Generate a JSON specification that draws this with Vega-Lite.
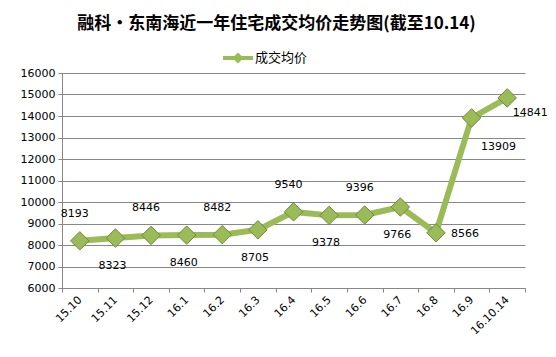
{
  "$schema": "https://vega.github.io/schema/vega-lite/v6.json",
  "autosize": "none",
  "width": 463,
  "height": 215,
  "padding": {"left": 62, "top": 73, "right": 31, "bottom": 69},
  "background": "white",
  "title": {
    "text": "融科·东南海近一年住宅成交均价走势图(截至10.14)",
    "anchor": "middle",
    "font": "Noto Sans CJK SC",
    "fontSize": 17,
    "fontWeight": "bold",
    "color": "#000000",
    "offset": 10,
    "dx": -17
  },
  "data": {
    "values": [
      {"month": "15.10", "price": 8193},
      {"month": "15.11", "price": 8323},
      {"month": "15.12", "price": 8446},
      {"month": "16.1", "price": 8460},
      {"month": "16.2", "price": 8482},
      {"month": "16.3", "price": 8705},
      {"month": "16.4", "price": 9540},
      {"month": "16.5", "price": 9378},
      {"month": "16.6", "price": 9396},
      {"month": "16.7", "price": 9766},
      {"month": "16.8", "price": 8566},
      {"month": "16.9", "price": 13909},
      {"month": "16.10.14", "price": 14841}
    ]
  },
  "encoding": {
    "x": {
      "field": "month",
      "type": "nominal",
      "sort": null,
      "bandPosition": 0.5,
      "scale": {"type": "band", "paddingInner": 0, "paddingOuter": 0},
      "axis": {
        "title": null,
        "tickBand": "extent",
        "labelAngle": -45,
        "labelAlign": "right",
        "labelBaseline": "middle",
        "labelFont": "DejaVu Sans",
        "labelFontSize": 11,
        "labelColor": "#000000",
        "labelPadding": 6,
        "domainColor": "#878787",
        "tickColor": "#878787",
        "tickSize": 4,
        "grid": false
      }
    },
    "y": {
      "field": "price",
      "type": "quantitative",
      "scale": {"domain": [6000, 16000], "nice": false, "zero": false},
      "axis": {
        "title": null,
        "format": "d",
        "values": [6000, 7000, 8000, 9000, 10000, 11000, 12000, 13000, 14000, 15000, 16000],
        "labelFont": "DejaVu Sans",
        "labelFontSize": 11,
        "labelColor": "#000000",
        "labelPadding": 3,
        "domainColor": "#878787",
        "tickColor": "#878787",
        "tickSize": 4,
        "gridColor": "#878787",
        "gridWidth": 1
      }
    }
  },
  "layer": [
    {
      "mark": {"type": "line", "strokeWidth": 6},
      "encoding": {
        "color": {
          "datum": "成交均价",
          "scale": {"range": ["#9bbb59"]},
          "legend": {
            "title": null,
            "orient": "none",
            "legendX": 161,
            "legendY": -30,
            "symbolType": "M-1,-0.13L1,-0.13L1,0.13L-1,0.13Z M-0.37,0L0,-0.37L0.37,0L0,0.37Z",
            "symbolSize": 900,
            "symbolFillColor": "#9bbb59",
            "symbolStrokeWidth": 0,
            "labelFont": "Noto Sans CJK SC",
            "labelFontSize": 13,
            "labelColor": "#000000",
            "labelOffset": 2
          }
        }
      }
    },
    {
      "mark": {"type": "point", "shape": "diamond", "size": 340, "filled": true, "fill": "#9bbb59", "stroke": "#6f8a3a", "strokeWidth": 1, "opacity": 1}
    },
    {
      "transform": [{"filter": {"field": "month", "oneOf": ["15.10", "15.12", "16.2", "16.4", "16.6"]}}],
      "mark": {"type": "text", "font": "DejaVu Sans", "fontSize": 11, "color": "#000000", "dy": -27, "dx": -5, "baseline": "middle"},
      "encoding": {"text": {"field": "price", "type": "quantitative", "format": "d"}}
    },
    {
      "transform": [{"filter": {"field": "month", "oneOf": ["15.11", "16.1", "16.3", "16.5", "16.7"]}}],
      "mark": {"type": "text", "font": "DejaVu Sans", "fontSize": 11, "color": "#000000", "dy": 28, "dx": -3, "baseline": "middle"},
      "encoding": {"text": {"field": "price", "type": "quantitative", "format": "d"}}
    },
    {
      "transform": [{"filter": {"field": "month", "equal": "16.8"}}],
      "mark": {"type": "text", "font": "DejaVu Sans", "fontSize": 11, "color": "#000000", "dy": 1, "dx": 29, "baseline": "middle"},
      "encoding": {"text": {"field": "price", "type": "quantitative", "format": "d"}}
    },
    {
      "transform": [{"filter": {"field": "month", "equal": "16.9"}}],
      "mark": {"type": "text", "font": "DejaVu Sans", "fontSize": 11, "color": "#000000", "dy": 29, "dx": 27, "baseline": "middle"},
      "encoding": {"text": {"field": "price", "type": "quantitative", "format": "d"}}
    },
    {
      "transform": [{"filter": {"field": "month", "equal": "16.10.14"}}],
      "mark": {"type": "text", "font": "DejaVu Sans", "fontSize": 11, "color": "#000000", "dy": 15, "dx": 23, "baseline": "middle"},
      "encoding": {"text": {"field": "price", "type": "quantitative", "format": "d"}}
    }
  ],
  "config": {
    "view": {"stroke": null}
  }
}
